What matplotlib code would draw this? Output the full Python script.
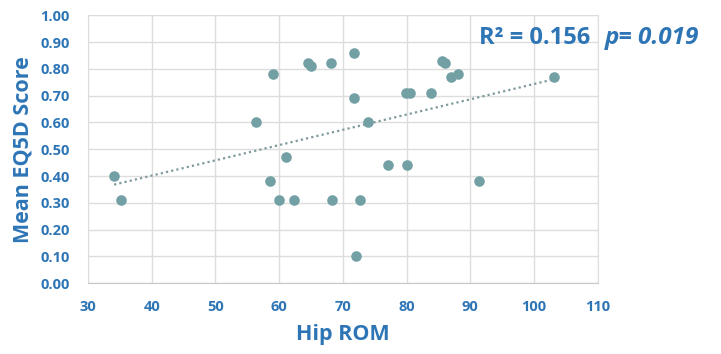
import numpy as np
import matplotlib.pyplot as plt

# Hip ROM vs mean EQ5D score
hip_rom = [34.1, 35.2, 56.4, 58.5, 59.0, 60.0, 61.1, 62.4, 64.5, 65.0,
           68.2, 68.3, 71.8, 71.8, 72.1, 72.7, 74.0, 77.1, 79.9, 80.1,
           80.5, 83.8, 85.6, 86.0, 87.0, 88.1, 91.3, 103.2]
eq5d = [0.40, 0.31, 0.60, 0.38, 0.78, 0.31, 0.47, 0.31, 0.82, 0.81,
        0.82, 0.31, 0.86, 0.69, 0.10, 0.31, 0.60, 0.44, 0.71, 0.44,
        0.71, 0.71, 0.83, 0.82, 0.77, 0.78, 0.38, 0.77]
x_ticks = [30, 40, 50, 60, 70, 80, 90, 100, 110]
y_ticks = [0.0, 0.1, 0.2, 0.3, 0.4, 0.5, 0.6, 0.7, 0.8, 0.9, 1.0]

plt.rcParams['font.family'] = ['Open Sans', 'DejaVu Sans']

blue = '#2E75B6'
dot = '#72A0A4'
grid = '#DDDDDD'

fig = plt.figure(figsize=(7.21, 3.54), dpi=100)
ax = fig.add_axes([0.122, 0.2, 0.707, 0.757])

ax.scatter(hip_rom, eq5d, s=58, color=dot, zorder=3, linewidths=0)

# linear trend line
m, b = np.polyfit(hip_rom, eq5d, 1)
xs = np.array([min(hip_rom), max(hip_rom)])
ax.plot(xs, m * xs + b, linestyle=(0, (1, 1.4)), color='#7F9A9C', lw=1.6, zorder=2)

ax.set_xlim(30, 110)
ax.set_ylim(0, 1.0)
ax.set_xticks(x_ticks)
ax.set_yticks(y_ticks)
ax.set_yticklabels(['%.2f' % v for v in y_ticks])
ax.grid(True, color=grid, lw=1.0)
ax.set_axisbelow(True)
for s in ax.spines.values():
    s.set_color(grid)
ax.spines['bottom'].set_color('#C8C8C8')
ax.tick_params(length=0, labelsize=10.5, labelcolor=blue)
ax.tick_params(axis='y', pad=13)
ax.tick_params(axis='x', pad=12)
for lab in ax.get_xticklabels() + ax.get_yticklabels():
    lab.set_fontweight('bold')

ax.set_xlabel('Hip ROM', fontsize=15.5, fontweight='bold', color=blue, labelpad=7)
ax.set_ylabel('Mean EQ5D Score', fontsize=15.5, fontweight='bold', color=blue, labelpad=5)

ax.text(0.985, 0.915, 'R² = 0.156', transform=ax.transAxes, ha='right', va='center',
        fontsize=17, fontweight='bold', color=blue)
ax.text(1.013, 0.915, 'p= 0.019', transform=ax.transAxes, ha='left', va='center',
        fontsize=17.5, fontweight='bold', fontstyle='italic', color=blue)

fig.savefig('out.png', dpi=100)
